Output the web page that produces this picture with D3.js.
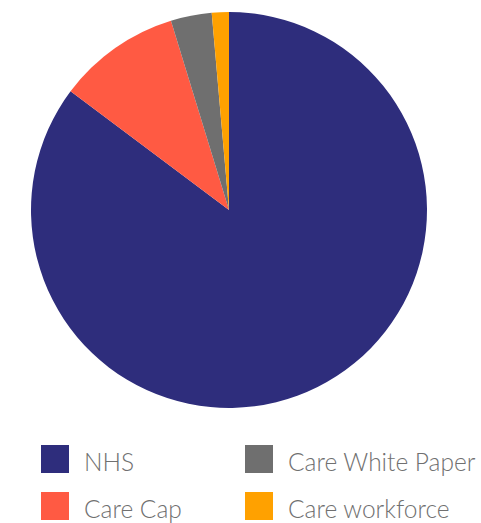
<!DOCTYPE html>
<html>
<head>
<meta charset="utf-8">
<script src="https://cdn.jsdelivr.net/npm/d3@7"></script>
<style>
  body { margin: 0; background: #fff; }
  .legend-labels { font-family: Lato, "Open Sans", sans-serif; font-weight: 300; font-size: 24.5px; fill: #707070; }
</style>
</head>
<body>
<div id="viz"></div>
<script>
// spending split (bn)
var categories = ["NHS", "Care Cap", "Care White Paper", "Care workforce"];
var values = [30.6, 3.6, 1.2, 0.5];
var colors = ["#2e2d7c", "#ff5a43", "#6f6f6f", "#ffa100"];

var width = 481, height = 523;
var cx = 229, cy = 210, radius = 198;

var svg = d3.select("#viz")
    .append("svg")
        .attr("width", width)
        .attr("height", height);

var color = d3.scaleOrdinal()
    .domain(categories)
    .range(colors);

var data = categories.map(function(c, i) { return {name: c, value: values[i]}; });

// clockwise from 12 o'clock, keep data order
var pie = d3.pie()
    .value(function(d) { return d.value; })
    .sort(null);

var arc = d3.arc()
    .innerRadius(0)
    .outerRadius(radius);

svg.append("g")
    .attr("transform", "translate(" + cx + "," + cy + ")")
    .selectAll("path")
    .data(pie(data))
    .enter().append("path")
        .attr("d", arc)
        .attr("fill", function(d) { return color(d.data.name); });

// legend, 2 columns
var legendX = [41, 245], legendY = [445, 492];

var legend = svg.selectAll(".legend")
    .data(data)
    .enter().append("g")
        .attr("class", "legend")
        .attr("transform", function(d, i) {
            return "translate(" + legendX[Math.floor(i / 2)] + "," + legendY[i % 2] + ")";
        });

legend.append("rect")
    .attr("width", 28)
    .attr("height", 28)
    .attr("fill", function(d) { return color(d.name); });

legend.append("text")
    .attr("class", "legend-labels")
    .attr("x", 43)
    .attr("y", 26)
    .text(function(d) { return d.name; });
</script>
</body>
</html>
